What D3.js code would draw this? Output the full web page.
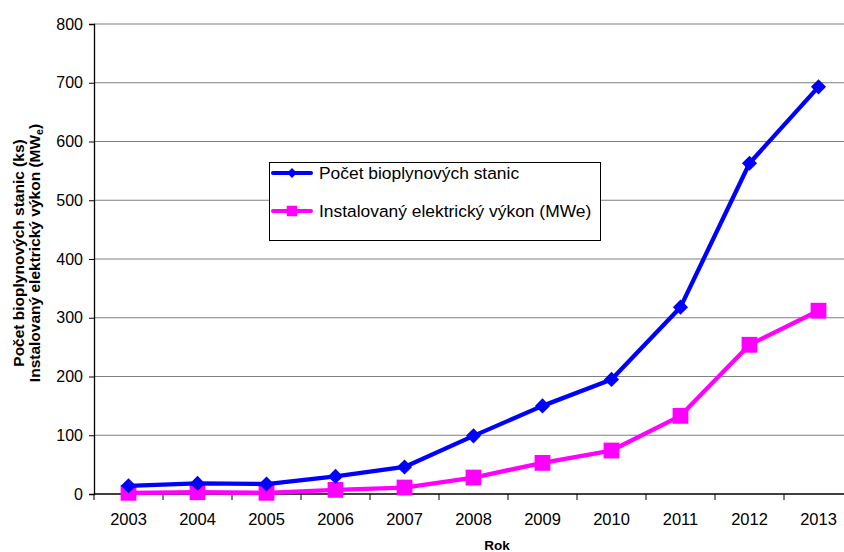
<!DOCTYPE html>
<html>
<head>
<meta charset="utf-8">
<script src="https://cdn.jsdelivr.net/npm/d3@7"></script>
<style>
  body { margin: 0; background: #fff; }
  svg { display: block; font-family: "Liberation Sans", Arial, sans-serif; }
</style>
</head>
<body>
<svg id="chart" width="844" height="552"></svg>
<script>
// Years on the category axis
const years = ["2003","2004","2005","2006","2007","2008","2009","2010","2011","2012","2013"];
// Number of biogas stations (pcs)
const stations = [14, 18, 17, 30, 46, 99, 150, 195, 318, 563, 693];
// Installed electrical capacity (MWe)
const capacity = [2, 3, 2, 7, 11, 28, 53, 74, 133, 254, 312];
// Value axis ticks
const yTicks = [0, 100, 200, 300, 400, 500, 600, 700, 800];

const seriesNames = ["Počet bioplynových stanic", "Instalovaný elektrický výkon (MWe)"];

const svg = d3.select("#chart");
const plotL = 94, plotR = 853, plotT = 24, plotB = 494;

const x = d3.scaleBand().domain(years).range([plotL, plotR]).paddingInner(0).paddingOuter(0);
const y = d3.scaleLinear().domain([0, 800]).range([plotB, plotT]);

// horizontal gridlines
svg.append("g")
  .selectAll("line")
  .data(yTicks.filter(d => d > 0))
  .join("line")
  .attr("x1", plotL).attr("x2", plotR)
  .attr("y1", d => y(d)).attr("y2", d => y(d))
  .attr("stroke", "#808080").attr("stroke-width", 1.2);

// y axis
const yAxis = svg.append("g")
  .attr("transform", `translate(${plotL},0)`)
  .call(d3.axisLeft(y).tickValues(yTicks).tickSize(5).tickPadding(6));
yAxis.select(".domain").attr("stroke", "#000").attr("stroke-width", 1.3);
yAxis.selectAll(".tick line").attr("stroke", "#000");
yAxis.selectAll("text").attr("font-size", 16).attr("fill", "#000")
  .attr("font-family", "Liberation Sans, Arial, sans-serif");

// x axis: ticks between categories
const xAxisG = svg.append("g").attr("transform", `translate(0,${plotB})`);
xAxisG.append("line").attr("x1", plotL).attr("x2", plotR).attr("stroke", "#000").attr("stroke-width", 1.3);
xAxisG.selectAll(".tk")
  .data(years)
  .join("line")
  .attr("class", "tk")
  .attr("x1", d => x(d)).attr("x2", d => x(d))
  .attr("y1", 0).attr("y2", 6)
  .attr("stroke", "#000");
xAxisG.selectAll(".lbl")
  .data(years)
  .join("text")
  .attr("class", "lbl")
  .attr("x", d => x(d) + x.bandwidth() / 2)
  .attr("y", 31)
  .attr("text-anchor", "middle")
  .attr("font-size", 16.5)
  .text(d => d);

// axis titles
svg.append("text")
  .attr("x", 497).attr("y", 550)
  .attr("text-anchor", "middle")
  .attr("font-size", 13.5).attr("font-weight", "bold")
  .text("Rok");

const yTitle = svg.append("text")
  .attr("transform", "translate(0,253) rotate(-90)")
  .attr("text-anchor", "middle")
  .attr("font-size", 15.5).attr("font-weight", "bold");
yTitle.append("tspan").attr("x", 0).attr("y", 24).text("Počet bioplynových stanic (ks)");
const line2 = yTitle.append("tspan").attr("x", 0).attr("y", 40);
line2.append("tspan").text("Instalovaný elektrický výkon (MW");
line2.append("tspan").attr("font-size", 10.5).attr("dy", 3).text("e");
line2.append("tspan").attr("dy", -3).text(")");

const cx = d => x(d) + x.bandwidth() / 2;

const line = d3.line().x(d => cx(d.year)).y(d => y(d.value));

const blueData = years.map((yr, i) => ({ year: yr, value: stations[i] }));
const pinkData = years.map((yr, i) => ({ year: yr, value: capacity[i] }));

const diamond = d3.symbol().type(d3.symbolSquare).size(115);
const square = d3.symbol().type(d3.symbolSquare).size(250);

function drawSeries(data, color, sym, rotate) {
  svg.append("path")
    .datum(data)
    .attr("d", line)
    .attr("fill", "none")
    .attr("stroke", color)
    .attr("stroke-width", 4.3)
    .attr("stroke-linejoin", "round");
  svg.append("g")
    .selectAll("path")
    .data(data)
    .join("path")
    .attr("d", sym)
    .attr("transform", d => `translate(${cx(d.year)},${y(d.value)})` + (rotate ? " rotate(45)" : ""))
    .attr("fill", color);
}

drawSeries(pinkData, "#FF00FF", square, false);
drawSeries(blueData, "#0000FF", diamond, true);

// legend
const lg = svg.append("g");
lg.append("rect")
  .attr("x", 269.5).attr("y", 162.5).attr("width", 331).attr("height", 78)
  .attr("fill", "#fff").attr("stroke", "#000").attr("stroke-width", 1);
const items = [
  { name: seriesNames[0], color: "#0000FF", sym: d3.symbol().type(d3.symbolSquare).size(50), rot: true, y: 173 },
  { name: seriesNames[1], color: "#FF00FF", sym: d3.symbol().type(d3.symbolSquare).size(110), rot: false, y: 211 }
];
items.forEach(it => {
  lg.append("line")
    .attr("x1", 273).attr("x2", 311).attr("y1", it.y).attr("y2", it.y)
    .attr("stroke", it.color).attr("stroke-width", 4).attr("stroke-linecap", "round");
  lg.append("path")
    .attr("d", it.sym())
    .attr("transform", `translate(292,${it.y})` + (it.rot ? " rotate(45)" : ""))
    .attr("fill", it.color);
  lg.append("text")
    .attr("x", 319).attr("y", it.y + 6)
    .attr("font-size", 17.4)
    .text(it.name);
});
</script>
</body>
</html>
